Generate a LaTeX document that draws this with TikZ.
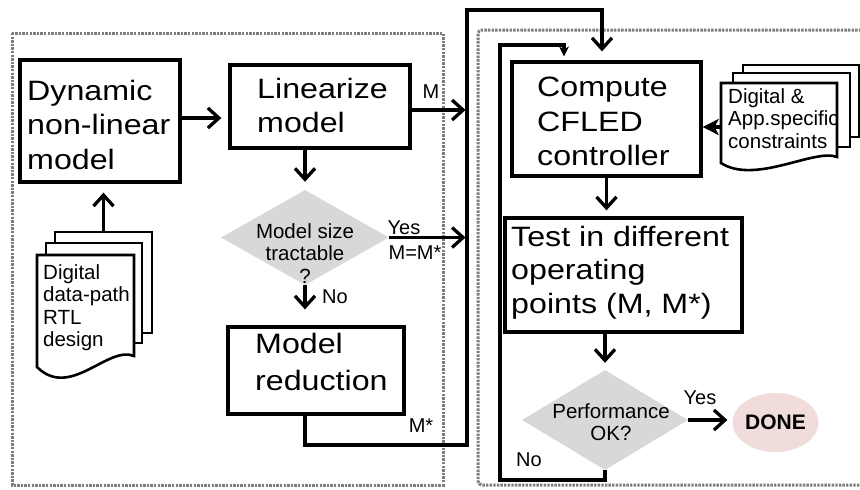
\documentclass[tikz,border=0pt]{standalone}
\usepackage{fontspec}
\setmainfont{Liberation Sans}
\newfontfamily\bigfont[FakeStretch=1.15]{Liberation Sans}
\usetikzlibrary{arrows.meta,shapes.geometric}
\definecolor{dotgray}{RGB}{125,125,125}
\definecolor{diagray}{RGB}{216,216,216}
\definecolor{donepink}{RGB}{240,220,218}
\begin{document}
\begin{tikzpicture}[x=1pt,y=-1pt,
 box/.style={draw,line width=3.3pt,fill=white,inner sep=0pt},
 docpage/.style={draw,line width=2.6pt,fill=white,inner sep=0pt},
 bigtxt/.style={font=\bigfont\fontsize{28}{34.5}\selectfont,align=left,anchor=north west,inner sep=0pt},
 smtxt/.style={font=\fontsize{20.5}{22.5}\selectfont,inner sep=0pt},
 lbl/.style={font=\fontsize{20}{22}\selectfont,inner sep=0pt},
 dia/.style={diamond,fill=diagray,inner sep=0pt},
 dotframe/.style={draw=dotgray,line width=3pt,dash pattern=on 2.4pt off 1.2pt},
 wire/.style={line width=3.3pt,line join=miter},
 arr/.style={wire,-{Straight Barb[length=11pt,width=20pt]}},
]
\useasboundingbox (0,0) rectangle (860,490);

% dotted frames
\draw[dotframe] (12,33) rectangle (443,485);
\draw[dotframe,rounded corners=4pt] (478,30) rectangle (880,485);

% left document stack
\node[docpage,minimum width=97,minimum height=101] (doc1c) at (103.5,282.5) {};
\node[docpage,minimum width=96,minimum height=100] (doc1b) at (94,293) {};
\draw[docpage] (37,255) -- (134,255) -- (134,356) .. controls (108,345) and (70,400) .. (37,367) -- cycle;
\node[smtxt,align=left,anchor=north west] (doc1t) at (43,264) {Digital\\data-path\\RTL\\design};

% right document stack
\node[docpage,minimum width=116,minimum height=72] (doc2c) at (801,101) {};
\node[docpage,minimum width=117,minimum height=74] (doc2b) at (791.5,110) {};
\draw[docpage] (721,83) -- (837,83) -- (837,157) .. controls (815,148) and (755,185) .. (721,163) -- cycle;
\node[smtxt,align=left,anchor=north west] (doc2t) at (728,88) {Digital \&\\App.specific\\constraints};
\coordinate (doc2l) at (721,127);

% boxes
\node[box,minimum width=160,minimum height=122] (dyn) at (100,121) {};
\node[box,minimum width=180,minimum height=83] (lin) at (320,106.5) {};
\node[box,minimum width=176,minimum height=87] (red) at (316,370.5) {};
\node[box,minimum width=189,minimum height=114] (cmp) at (606.5,119) {};
\node[box,minimum width=237,minimum height=114] (tst) at (623.5,275) {};

\node[bigtxt] (dynt) at (27,80) {Dynamic\\non-linear\\model};
\node[bigtxt] (lint) at (257,78) {Linearize\\model};
\node[bigtxt,font=\bigfont\fontsize{28}{37}\selectfont] (redt) at (255,333) {Model\\reduction};
\node[bigtxt] (cmpt) at (537,77) {Compute\\CFLED\\controller};
\node[bigtxt,font=\bigfont\fontsize{28}{33.5}\selectfont] (tstt) at (511,226) {Test in different\\operating\\points (M, M*)};

% decisions
\node[dia,minimum width=168,minimum height=95] (dia1) at (305,237.5) {};
\node[smtxt,align=center,anchor=north] (dia1t) at (305,223) {Model size\\tractable\\?};
\node[dia,minimum width=166,minimum height=100] (perf) at (605,420) {};
\node[smtxt,align=center,anchor=north] (perft) at (611,403) {Performance\\OK?};
\node[ellipse,fill=donepink,minimum width=85,minimum height=59,inner sep=0pt,font=\bfseries\fontsize{21}{24}\selectfont] (done) at (775.5,422.5) {DONE};

% labels
\node[lbl] (lm) at (431,92) {M};
\node[lbl] (lyes1) at (404,228) {Yes};
\node[lbl] (lmm) at (415,253) {M=M*};
\node[lbl] (lno1) at (335,297) {No};
\node[lbl] (lms) at (421,426) {M*};
\node[lbl] (lyes2) at (700,398) {Yes};
\node[lbl] (lno2) at (529,460) {No};

% bus coordinates
\coordinate (busb) at (467,445);
\coordinate (bust) at (467,10);
\coordinate (topin) at (602,10);
\coordinate (mout) at ([yshift=-3.5pt]lin.east);
\coordinate (dynout) at ([yshift=3pt]dyn.east);
\coordinate (fbbl) at (500,480);
\coordinate (fbtl) at (500,45);
\coordinate (fbin) at (564,45);

% connectors
\draw[arr,shorten >=7pt] (dynout) -- (dynout -| lin.west);
\draw[arr,shorten >=9pt] (doc1c.north) -- (doc1c.north |- dyn.south);
\draw[arr,shorten >=8pt] (dia1.north |- lin.south) -- (dia1.north);
\draw[arr,shorten >=16pt] (dia1.south) -- (dia1.south |- red.north);
\draw[arr,shorten >=1.5pt] (mout) -- (mout -| bust);
\draw[arr,shorten >=1.5pt] (dia1.east) -- (dia1.east -| bust);
\draw[arr,shorten >=9pt] (dia1.south |- red.south) |- (busb) -- (bust) -- (topin) -- (topin |- cmp.north);
\draw[wire,-{Stealth[length=16pt,width=16pt,inset=4pt]}] (doc2l) -- (doc2l -| cmp.east);
\draw[arr,shorten >=6pt] (cmp.south) -- (cmp.south |- tst.north);
\draw[arr,shorten >=7pt] (perf.north |- tst.south) -- (perf.north);
\draw[arr,shorten >=5pt] (perf.east) -- (perf.east -| done.west);
\draw[wire,-{Stealth[length=10pt,width=10pt]},shorten >=4pt] (perf.south) |- (fbbl) -- (fbtl) -- (fbin) -- (fbin |- cmp.north);
\end{tikzpicture}
\end{document}
